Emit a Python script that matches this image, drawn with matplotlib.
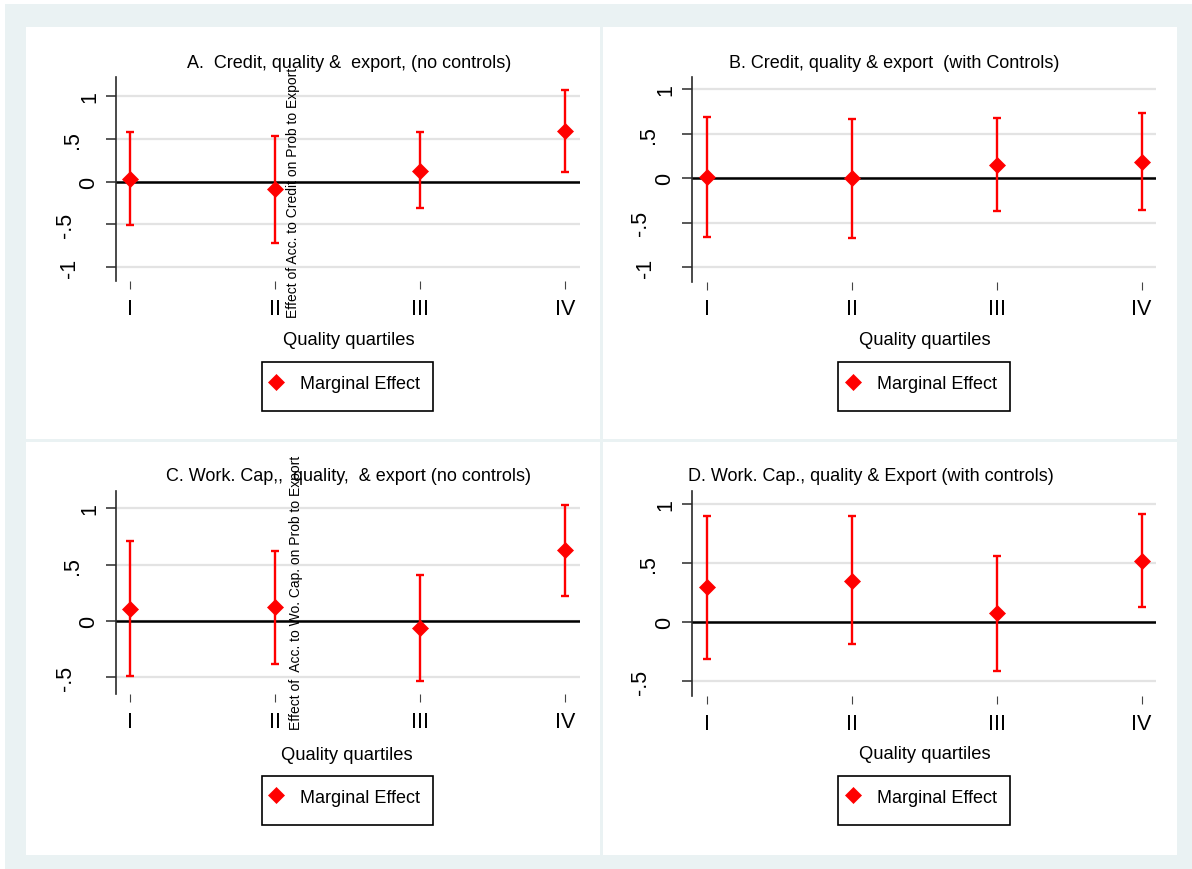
import matplotlib
matplotlib.use('Agg')
import matplotlib.pyplot as plt
from matplotlib.patches import Rectangle
from matplotlib.transforms import offset_copy

plt.rcParams['font.family'] = 'Liberation Sans'

# quality quartiles on the x axis
quartiles = [1, 2, 3, 4]
quartile_labels = ['I', 'II', 'III', 'IV']

# marginal effects and their confidence bounds, one set per panel
est_a = [0.03, -0.09, 0.13, 0.59]
lo_a = [-0.51, -0.72, -0.31, 0.11]
hi_a = [0.58, 0.53, 0.58, 1.08]

est_b = [0.01, 0.00, 0.15, 0.18]
lo_b = [-0.66, -0.67, -0.37, -0.36]
hi_b = [0.69, 0.67, 0.68, 0.73]

est_c = [0.11, 0.12, -0.06, 0.63]
lo_c = [-0.49, -0.38, -0.53, 0.225]
hi_c = [0.71, 0.62, 0.41, 1.03]

est_d = [0.30, 0.35, 0.08, 0.52]
lo_d = [-0.31, -0.184, -0.41, 0.127]
hi_d = [0.90, 0.90, 0.565, 0.915]

titles = ['A.  Credit, quality &  export, (no controls)',
          'B. Credit, quality & export  (with Controls)',
          'C. Work. Cap,,  quality,  & export (no controls)',
          'D. Work. Cap., quality & Export (with controls)']
ylabels = ['Effect of Acc. to Credit on Prob to Export', None,
           'Effect of  Acc. to Wo. Cap. on Prob to Export', None]

W, H = 1192, 870
bg = '#eaf2f3'
red = '#ff0000'

fig = plt.figure(figsize=(W / 100, H / 100), dpi=100)


def frac(x0, y0, x1, y1):
    return [x0 / W, 1 - y1 / H, (x1 - x0) / W, (y1 - y0) / H]


def fpt(x, y):
    return (x / W, 1 - y / H)


def add_box(x0, y0, x1, y1, **kw):
    l, b, w, h = frac(x0, y0, x1, y1)
    fig.add_artist(Rectangle((l, b), w, h, transform=fig.transFigure, **kw))


add_box(5, 5, W, H, facecolor=bg, edgecolor='none', zorder=-2)
for box in [(26, 28, 600, 440), (603, 28, 1177, 440),
            (26, 443, 600, 856), (603, 443, 1177, 856)]:
    add_box(*box, facecolor='white', edgecolor='none', zorder=-1)

# axes box, y range, x range, title pos, xlabel pos, legend frame + marker pos, ylabel pos
layout = [
    dict(box=(116, 78, 580, 282), ylim=(-1.164, 1.227), xlim=(0.903, 4.103),
         title=(349, 63), xlab=(349, 341), legbox=(261.7, 362.7, 432.7, 411.7),
         legpt=(276, 384.5), ylab=(292.5, 192.5), yticks=[-1, -0.5, 0, 0.5, 1]),
    dict(box=(691.7, 77.7, 1156, 282.7), ylim=(-1.16, 1.14), xlim=(0.894, 4.10),
         title=(894, 63), xlab=(924.5, 341), legbox=(838, 362.5, 1010, 412),
         legpt=(853, 384.5), ylab=None, yticks=[-1, -0.5, 0, 0.5, 1]),
    dict(box=(116, 491.7, 580, 695), ylim=(-0.649, 1.158), xlim=(0.903, 4.103),
         title=(348.5, 476.7), xlab=(347, 756), legbox=(261.7, 776.7, 432.7, 826),
         legpt=(276, 798.3), ylab=(296, 592.5), yticks=[-0.5, 0, 0.5, 1]),
    dict(box=(691.7, 491.7, 1156, 697.3), ylim=(-0.627, 1.115), xlim=(0.894, 4.10),
         title=(870.5, 476.7), xlab=(924.5, 755), legbox=(838, 776.7, 1010, 826),
         legpt=(853, 798.3), ylab=None, yticks=[-0.5, 0, 0.5, 1]),
]

ytick_text = {-1: '-1', -0.5: '-.5', 0: '0', 0.5: '.5', 1: '1'}
# rotated tick labels sit further from the axis the longer they are
ytick_off = {'1': 26, '0': 27, '.5': 43, '-1': 46, '-.5': 51}

series = [(est_a, lo_a, hi_a), (est_b, lo_b, hi_b),
          (est_c, lo_c, hi_c), (est_d, lo_d, hi_d)]

for i, (est, lo, hi) in enumerate(series):
    p = layout[i]
    ax = fig.add_axes(frac(*p['box']))
    ax.set_facecolor('none')
    ax.set_xlim(*p['xlim'])
    ax.set_ylim(*p['ylim'])
    for s in ['top', 'right', 'bottom']:
        ax.spines[s].set_visible(False)
    ax.spines['left'].set_color('#2a2a2a')
    ax.spines['left'].set_linewidth(1.2)

    ax.set_yticks(p['yticks'])
    ax.tick_params(axis='y', length=7, width=1.1, color='#2a2a2a', labelleft=False)
    ax.yaxis.grid(True, color='#e3e3e3', lw=1.6)
    ax.set_axisbelow(True)
    for v in p['yticks']:
        s = ytick_text[v]
        tr = offset_copy(ax.get_yaxis_transform(), fig=fig, x=-ytick_off[s], y=0, units='dots')
        ax.text(0, v, s, transform=tr, rotation=90, ha='center', va='center', fontsize=15.5)

    ax.set_xticks(quartiles, quartile_labels, fontsize=15.5)
    ax.tick_params(axis='x', length=5.5, width=0.8, color='#444444', pad=6.5)

    ax.axhline(0, color='black', lw=1.8, zorder=1.5)
    yerr = [[e - l for e, l in zip(est, lo)], [h - e for e, h in zip(est, hi)]]
    ax.errorbar(quartiles, est, yerr=yerr, fmt='none', ecolor=red, elinewidth=1.7,
                capsize=3, capthick=1.7, zorder=2)
    ax.plot(quartiles, est, 'D', color=red, ms=8.5, mew=0.5, label='Marginal Effect', zorder=3)

    fig.text(*fpt(*p['title']), titles[i], ha='center', va='center', fontsize=13)
    fig.text(*fpt(*p['xlab']), 'Quality quartiles', ha='center', va='center', fontsize=13.2)
    if ylabels[i]:
        fig.text(*fpt(*p['ylab']), ylabels[i], rotation=90, ha='center', va='center',
                 fontsize=10)

    # legend entry, with its frame drawn as a plain box around it
    mx, my = p['legpt']
    ax.legend(loc='center left', bbox_to_anchor=fpt(mx - 3.6, my), bbox_transform=fig.transFigure,
              fontsize=13, frameon=False, borderpad=0, handlelength=0.4, handletextpad=1.13,
              numpoints=1, borderaxespad=0)
    add_box(*p['legbox'], facecolor='none', edgecolor='black', lw=1.2, zorder=3)

fig.savefig('out.png', dpi=100, facecolor='white')
